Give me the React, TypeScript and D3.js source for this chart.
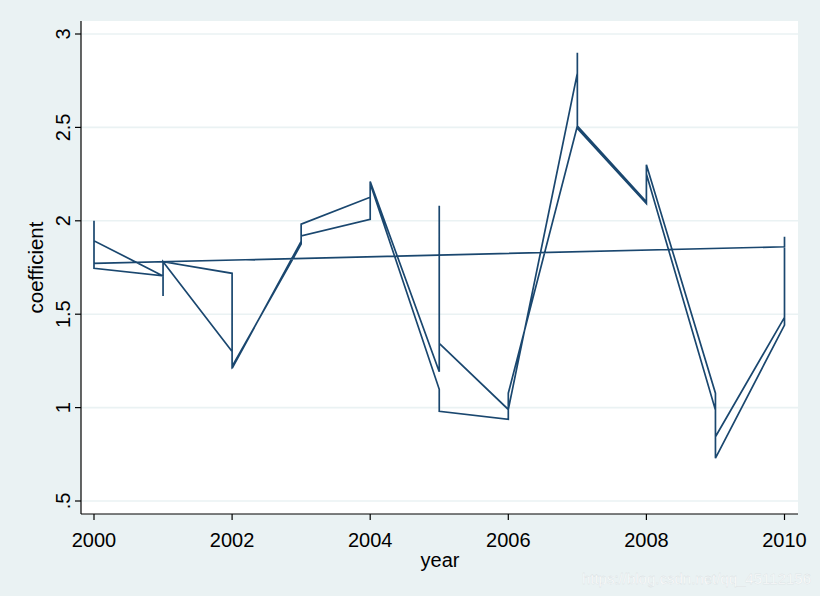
import React from "react";
import * as d3 from "d3";

// Observation order as stored in the data (line connects points in this order)
const years: number[] = [
  2000, 2000, 2000, 2001, 2001, 2001, 2002, 2002, 2003, 2003, 2004, 2004,
  2005, 2005, 2005, 2006, 2007, 2007, 2007, 2008, 2008, 2009, 2009,
  2010, 2010, 2010,
  2000, 2000, 2001, 2001, 2002, 2002, 2003, 2003, 2004, 2004, 2005, 2005,
  2006, 2006, 2007, 2008, 2008, 2009, 2009, 2010, 2010,
];
const coefficient: number[] = [
  2.0, 1.75, 1.893, 1.705, 1.597, 1.781, 1.719, 1.21, 1.89, 1.982, 2.126, 2.21,
  1.192, 2.08, 1.344, 0.99, 2.79, 2.9, 2.495, 2.092, 2.3, 1.077, 0.844,
  1.483, 1.915, 1.861,
  1.772, 1.746, 1.705, 1.781, 1.3, 1.22, 1.875, 1.919, 2.008, 2.2, 1.098, 0.98,
  0.937, 1.077, 2.507, 2.102, 2.25, 0.987, 0.729, 1.442, 1.49,
];
const xTicks: number[] = [2000, 2002, 2004, 2006, 2008, 2010];
const yTicks: number[] = [0.5, 1, 1.5, 2, 2.5, 3];
const yTickLabels: string[] = [".5", "1", "1.5", "2", "2.5", "3"];

const W = 820;
const H = 596;
const plot = { left: 81, right: 798, top: 21, bottom: 514 };
const font = "'Liberation Sans', Arial, sans-serif";
const lineColor = "#1a476f";

export default function App() {
  const x = d3.scaleLinear().domain([2000, 2010]).range([94, 784.5]);
  const y = d3.scaleLinear().domain([0.5, 3]).range([501, 34]);
  const pts: [number, number][] = years.map((yr, i) => [yr, coefficient[i]]);
  const line = d3
    .line<[number, number]>()
    .x((d) => x(d[0]))
    .y((d) => y(d[1]));

  return (
    <svg
      width={W}
      height={H}
      style={{ position: "absolute", left: 0, top: 0, display: "block" }}
    >
      <rect x={0} y={0} width={W} height={H} fill="#eaf2f3" />
      <rect
        x={plot.left}
        y={plot.top}
        width={plot.right - plot.left}
        height={plot.bottom - plot.top}
        fill="#ffffff"
      />
      {yTicks.map((t) => (
        <line
          key={"g" + t}
          x1={plot.left}
          x2={plot.right}
          y1={y(t)}
          y2={y(t)}
          stroke="#eaf2f3"
          strokeWidth={1.6}
        />
      ))}
      <path
        d={line(pts) || ""}
        fill="none"
        stroke={lineColor}
        strokeWidth={1.7}
        strokeLinejoin="miter"
      />
      {/* axes */}
      <line x1={plot.left} x2={plot.left} y1={plot.top} y2={plot.bottom} stroke="#000" strokeWidth={1.2} />
      <line x1={plot.left} x2={plot.right} y1={plot.bottom} y2={plot.bottom} stroke="#000" strokeWidth={1.2} />
      {yTicks.map((t, i) => (
        <g key={"y" + t}>
          <line x1={plot.left - 6} x2={plot.left} y1={y(t)} y2={y(t)} stroke="#000" strokeWidth={1.2} />
          <text
            transform={`translate(${plot.left - 11},${y(t)}) rotate(-90)`}
            textAnchor="middle"
            fontFamily={font}
            fontSize={20}
            fill="#000"
          >
            {yTickLabels[i]}
          </text>
        </g>
      ))}
      {xTicks.map((t) => (
        <g key={"x" + t}>
          <line x1={x(t)} x2={x(t)} y1={plot.bottom} y2={plot.bottom + 6} stroke="#000" strokeWidth={1.2} />
          <text
            x={x(t)}
            y={547}
            textAnchor="middle"
            fontFamily={font}
            fontSize={20}
            fill="#000"
          >
            {t}
          </text>
        </g>
      ))}
      <text x={440} y={567} textAnchor="middle" fontFamily={font} fontSize={20} fill="#000">
        year
      </text>
      <text
        transform={`translate(43,${(plot.top + plot.bottom) / 2}) rotate(-90)`}
        textAnchor="middle"
        fontFamily={font}
        fontSize={20.5}
        fill="#000"
      >
        coefficient
      </text>
      <text
        x={811}
        y={584}
        textAnchor="end"
        fontFamily={font}
        fontSize={15}
        fill="#ffffff"
        stroke="#d4dbdd"
        strokeWidth={0.3}
      >
        https://blog.csdn.net/qq_45112156
      </text>
    </svg>
  );
}
